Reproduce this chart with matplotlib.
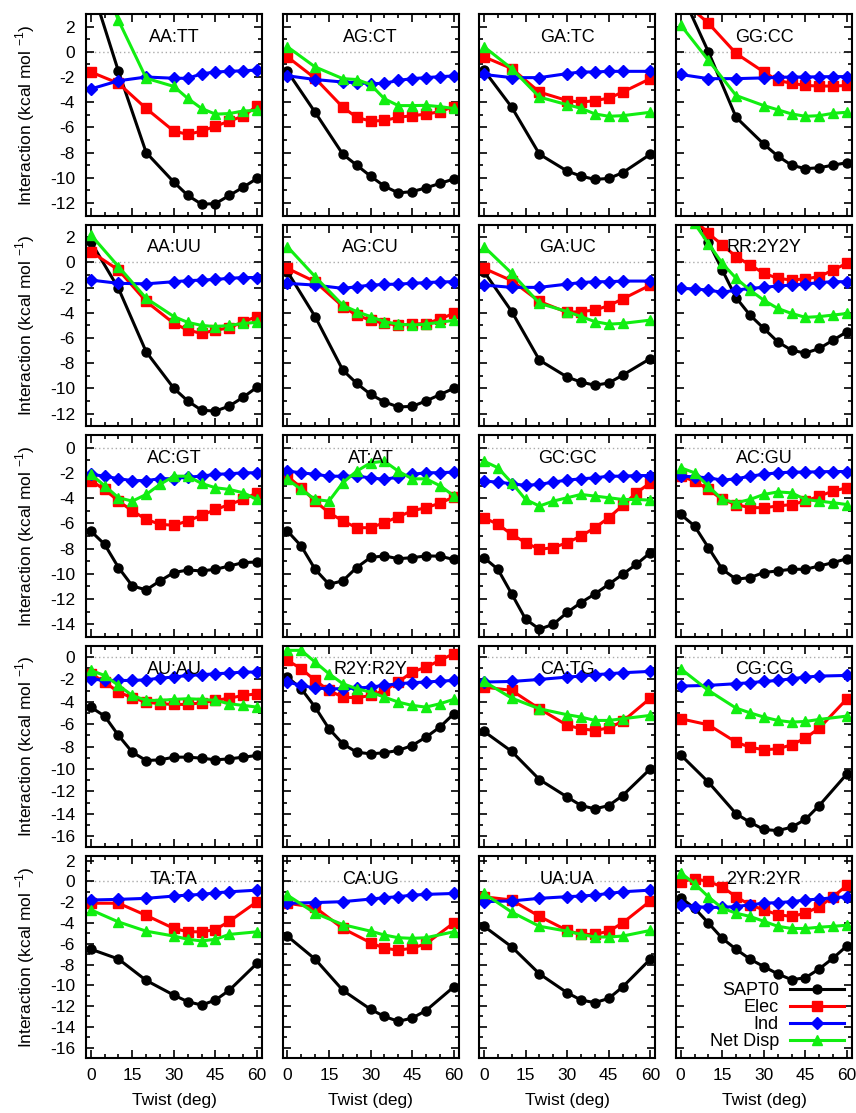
import matplotlib.pyplot as plt
from matplotlib.ticker import MultipleLocator

# twist grids (deg) used by the different scans
tw_a = [0, 10, 20, 30, 35, 40, 45, 50, 55, 60]
tw_b = [0, 10, 20, 25, 30, 35, 40, 45, 50, 55, 60]
tw_c = [0, 10, 20, 30, 35, 40, 45, 50, 60]
tw_d = [0, 10, 20, 25, 30, 35, 40, 45, 50, 60]
tw_5 = [0, 5, 10, 15, 20, 25, 30, 35, 40, 45, 50, 55, 60]

# row 1
aa_tt_sapt0 = [5.4, -1.55, -8.0, -10.35, -11.4, -12.1, -12.05, -11.4, -10.75, -10.05]
aa_tt_elec = [-1.6, -2.5, -4.5, -6.3, -6.55, -6.3, -5.9, -5.5, -5.1, -4.3]
aa_tt_ind = [-2.95, -2.3, -2.0, -2.1, -2.1, -1.75, -1.6, -1.55, -1.5, -1.45]
aa_tt_disp = [8.0, 2.5, -2.1, -2.75, -3.7, -4.5, -4.95, -4.9, -4.7, -4.65]

ag_ct_sapt0 = [-1.55, -4.8, -8.13, -9.0, -9.87, -10.67, -11.2, -11.1, -10.8, -10.45, -10.1]
ag_ct_elec = [-0.4, -2.1, -4.4, -5.2, -5.5, -5.45, -5.2, -5.07, -4.95, -4.75, -4.35]
ag_ct_ind = [-1.9, -2.2, -2.4, -2.45, -2.53, -2.5, -2.27, -2.13, -2.05, -1.97, -1.92]
ag_ct_disp = [0.4, -1.2, -2.13, -2.2, -2.6, -3.73, -4.27, -4.27, -4.25, -4.35, -4.5]

ga_tc_sapt0 = [-1.47, -4.4, -8.13, -9.47, -9.87, -10.13, -10.05, -9.6, -8.13]
ga_tc_elec = [-0.4, -1.33, -3.2, -3.87, -4.0, -3.87, -3.68, -3.2, -2.13]
ga_tc_ind = [-1.8, -2.05, -2.05, -1.73, -1.6, -1.6, -1.55, -1.55, -1.55]
ga_tc_disp = [0.4, -1.33, -3.6, -4.2, -4.48, -4.93, -5.12, -5.07, -4.8]

gg_cc_sapt0 = [4.8, 0.0, -5.2, -7.33, -8.27, -9.0, -9.28, -9.2, -9.0, -8.8]
gg_cc_elec = [4.2, 2.27, -0.13, -1.6, -2.27, -2.5, -2.67, -2.72, -2.72, -2.67]
gg_cc_ind = [-1.8, -2.13, -2.13, -2.07, -2.03, -2.0, -2.0, -1.98, -1.97, -1.97]
gg_cc_disp = [2.13, -0.67, -3.47, -4.27, -4.6, -4.93, -5.12, -5.07, -4.88, -4.8]

# row 2
aa_uu_sapt0 = [1.65, -2.06, -7.1, -10.0, -11.0, -11.74, -11.8, -11.4, -10.7, -9.9]
aa_uu_elec = [0.86, -0.6, -3.1, -4.84, -5.37, -5.64, -5.37, -5.2, -4.7, -4.3]
aa_uu_ind = [-1.4, -1.66, -1.7, -1.53, -1.45, -1.4, -1.35, -1.26, -1.2, -1.2]
aa_uu_disp = [2.2, -0.33, -2.85, -4.3, -4.76, -5.0, -5.1, -5.0, -4.84, -4.76]

ag_cu_sapt0 = [-0.73, -4.3, -8.55, -9.6, -10.47, -11.08, -11.47, -11.43, -11.0, -10.5, -10.0]
ag_cu_elec = [-0.47, -1.53, -3.5, -4.2, -4.58, -4.84, -4.97, -4.9, -4.85, -4.5, -4.05]
ag_cu_ind = [-1.66, -1.8, -2.06, -1.93, -1.8, -1.75, -1.72, -1.66, -1.6, -1.55, -1.53]
ag_cu_disp = [1.25, -1.13, -3.4, -3.9, -4.3, -4.7, -4.9, -4.97, -4.9, -4.75, -4.6]

ga_uc_sapt0 = [-0.73, -3.9, -7.76, -9.1, -9.5, -9.75, -9.57, -8.95, -7.63]
ga_uc_elec = [-0.47, -1.45, -3.1, -3.97, -3.9, -3.78, -3.43, -2.9, -1.8]
ga_uc_ind = [-1.8, -1.98, -1.98, -1.72, -1.6, -1.53, -1.53, -1.48, -1.48]
ga_uc_disp = [1.25, -0.86, -3.25, -3.9, -4.3, -4.7, -4.9, -4.84, -4.58]

rr_2y2y_sapt0 = [6.8, 4.0, 1.65, -0.6, -2.8, -4.18, -5.24, -6.3, -6.97, -7.2, -6.83, -6.17, -5.5]
rr_2y2y_elec = [4.5, 3.4, 2.3, 1.4, 0.46, -0.2, -0.86, -1.26, -1.4, -1.3, -1.13, -0.6, -0.07]
rr_2y2y_ind = [-2.06, -2.1, -2.2, -2.37, -2.2, -2.06, -1.98, -1.87, -1.8, -1.72, -1.6, -1.53, -1.53]
rr_2y2y_disp = [4.5, 3.1, 1.5, -0.07, -1.26, -2.2, -3.0, -3.65, -4.05, -4.36, -4.3, -4.18, -4.05]

# row 3
ac_gt_sapt0 = [-6.6, -7.66, -9.5, -10.96, -11.28, -10.56, -9.9, -9.7, -9.77, -9.64, -9.38, -9.11, -9.06]
ac_gt_elec = [-2.6, -3.3, -4.23, -5.0, -5.68, -6.07, -6.15, -5.8, -5.36, -4.89, -4.5, -4.09, -3.57]
ac_gt_ind = [-2.1, -2.25, -2.45, -2.6, -2.6, -2.45, -2.45, -2.32, -2.25, -2.1, -2.06, -1.98, -1.98]
ac_gt_disp = [-2.1, -3.0, -3.96, -4.23, -3.7, -2.9, -2.25, -2.25, -2.83, -3.17, -3.3, -3.57, -4.1]

at_at_sapt0 = [-6.6, -7.8, -9.64, -10.83, -10.56, -9.5, -8.7, -8.58, -8.8, -8.72, -8.58, -8.6, -8.86]
at_at_elec = [-2.25, -3.17, -4.23, -5.15, -5.8, -6.34, -6.34, -5.94, -5.47, -5.0, -4.75, -4.4, -3.9]
at_at_ind = [-1.85, -1.98, -2.1, -2.25, -2.25, -2.25, -2.38, -2.5, -2.32, -2.1, -1.98, -1.97, -1.93]
at_at_disp = [-2.5, -3.3, -4.1, -4.23, -2.77, -1.85, -1.19, -1.06, -1.85, -2.46, -2.46, -3.0, -3.8]

gc_gc_sapt0 = [-8.72, -9.64, -11.6, -13.6, -14.4, -14.0, -13.07, -12.28, -11.6, -10.83, -10.04, -9.24, -8.32]
gc_gc_elec = [-5.55, -6.07, -6.87, -7.53, -8.06, -7.92, -7.53, -7.0, -6.34, -5.55, -4.57, -3.57, -2.77]
gc_gc_ind = [-2.64, -2.72, -2.85, -2.98, -2.9, -2.72, -2.56, -2.46, -2.38, -2.25, -2.25, -2.2, -2.2]
gc_gc_disp = [-1.06, -1.58, -2.77, -4.1, -4.62, -4.23, -3.96, -3.7, -3.83, -3.96, -4.1, -4.1, -4.15]

ac_gu_sapt0 = [-5.28, -6.2, -7.92, -9.64, -10.43, -10.3, -9.9, -9.77, -9.64, -9.64, -9.38, -9.11, -8.8]
ac_gu_elec = [-2.25, -2.64, -3.3, -4.1, -4.5, -4.75, -4.75, -4.62, -4.5, -4.23, -3.83, -3.43, -3.17]
ac_gu_ind = [-2.25, -2.3, -2.38, -2.56, -2.46, -2.25, -2.1, -1.98, -1.93, -1.92, -1.9, -1.88, -1.88]
ac_gu_disp = [-1.58, -1.98, -3.04, -4.1, -4.36, -4.1, -3.7, -3.5, -3.57, -4.1, -4.23, -4.36, -4.5]

# row 4
au_au_sapt0 = [-4.47, -5.27, -7.0, -8.5, -9.24, -9.18, -8.94, -8.94, -9.03, -9.18, -9.09, -8.94, -8.79]
au_au_elec = [-1.49, -2.23, -3.13, -3.64, -4.02, -4.17, -4.23, -4.23, -4.08, -3.87, -3.67, -3.43, -3.28]
au_au_ind = [-1.94, -2.09, -2.09, -2.09, -2.03, -1.88, -1.79, -1.64, -1.58, -1.49, -1.43, -1.34, -1.34]
au_au_disp = [-1.19, -1.64, -2.53, -3.43, -3.87, -3.87, -3.78, -3.72, -3.78, -3.87, -4.17, -4.32, -4.47]

r2y_r2y_sapt0 = [-1.79, -2.83, -4.47, -6.4, -7.75, -8.5, -8.64, -8.55, -8.34, -7.9, -7.15, -6.26, -5.07]
r2y_r2y_elec = [-0.3, -1.04, -2.09, -2.98, -3.58, -3.64, -3.43, -2.98, -2.23, -1.34, -0.9, -0.3, 0.3]
r2y_r2y_ind = [-2.23, -2.53, -2.77, -2.83, -2.83, -2.77, -2.68, -2.53, -2.38, -2.29, -2.23, -2.15, -2.09]
r2y_r2y_disp = [0.6, 0.6, -0.45, -1.49, -2.38, -2.83, -3.13, -3.58, -4.02, -4.32, -4.47, -4.17, -3.78]

ca_tg_sapt0 = [-6.64, -8.43, -10.94, -12.5, -13.26, -13.56, -13.26, -12.37, -9.98]
ca_tg_elec = [-2.68, -2.98, -4.62, -6.1, -6.4, -6.56, -6.32, -5.75, -3.67]
ca_tg_ind = [-2.23, -2.18, -2.0, -1.79, -1.7, -1.58, -1.49, -1.4, -1.28]
ca_tg_disp = [-2.18, -3.67, -4.62, -5.15, -5.36, -5.66, -5.66, -5.51, -5.21]

cg_cg_sapt0 = [-8.73, -11.17, -14.0, -14.75, -15.4, -15.5, -15.2, -14.5, -13.26, -10.43]
cg_cg_elec = [-5.51, -6.05, -7.6, -8.05, -8.28, -8.2, -7.84, -7.24, -6.35, -3.72]
cg_cg_ind = [-2.59, -2.53, -2.38, -2.29, -2.18, -2.09, -1.94, -1.79, -1.7, -1.64]
cg_cg_disp = [-1.04, -2.98, -4.56, -4.98, -5.36, -5.66, -5.81, -5.75, -5.57, -5.27]

# row 5
ta_ta_sapt0 = [-6.52, -7.47, -9.53, -10.95, -11.58, -11.9, -11.42, -10.47, -7.88]
ta_ta_elec = [-2.1, -2.1, -3.27, -4.53, -4.85, -4.85, -4.63, -3.84, -1.95]
ta_ta_ind = [-1.79, -1.73, -1.63, -1.41, -1.32, -1.25, -1.1, -1.0, -0.84]
ta_ta_disp = [-2.73, -3.9, -4.79, -5.26, -5.57, -5.73, -5.57, -5.1, -4.85]

ca_ug_sapt0 = [-5.27, -7.48, -10.48, -12.31, -13.0, -13.47, -13.16, -12.43, -10.16]
ca_ug_elec = [-2.1, -2.5, -4.53, -5.9, -6.43, -6.62, -6.43, -6.0, -4.0]
ca_ug_ind = [-2.1, -2.04, -1.95, -1.7, -1.57, -1.47, -1.32, -1.25, -1.16]
ca_ug_disp = [-1.32, -3.06, -4.16, -4.79, -5.16, -5.42, -5.48, -5.42, -4.85]

ua_ua_sapt0 = [-4.32, -6.3, -8.9, -10.72, -11.42, -11.67, -11.26, -10.16, -7.48]
ua_ua_elec = [-1.48, -1.79, -3.37, -4.72, -5.1, -5.1, -4.79, -4.0, -1.88]
ua_ua_ind = [-1.95, -1.88, -1.63, -1.47, -1.41, -1.32, -1.16, -1.0, -0.84]
ua_ua_disp = [-1.16, -2.96, -4.32, -4.79, -5.1, -5.35, -5.35, -5.26, -4.72]

yr_yr_sapt0 = [-1.57, -2.58, -4.0, -5.48, -6.53, -7.48, -8.2, -8.9, -9.46, -9.28, -8.42, -7.38, -6.2]
yr_yr_elec = [-0.05, 0.26, 0.0, -0.53, -1.48, -2.26, -2.74, -3.2, -3.37, -3.06, -2.42, -1.48, -0.37]
yr_yr_ind = [-2.26, -2.42, -2.5, -2.5, -2.42, -2.26, -2.1, -2.04, -1.95, -1.79, -1.7, -1.57, -1.48]
yr_yr_disp = [0.83, -0.21, -1.48, -2.58, -3.06, -3.37, -3.84, -4.32, -4.53, -4.53, -4.41, -4.32, -4.22]

panels = [
    [("AA:TT", tw_a, aa_tt_sapt0, aa_tt_elec, aa_tt_ind, aa_tt_disp),
     ("AG:CT", tw_b, ag_ct_sapt0, ag_ct_elec, ag_ct_ind, ag_ct_disp),
     ("GA:TC", tw_c, ga_tc_sapt0, ga_tc_elec, ga_tc_ind, ga_tc_disp),
     ("GG:CC", tw_a, gg_cc_sapt0, gg_cc_elec, gg_cc_ind, gg_cc_disp)],
    [("AA:UU", tw_a, aa_uu_sapt0, aa_uu_elec, aa_uu_ind, aa_uu_disp),
     ("AG:CU", tw_b, ag_cu_sapt0, ag_cu_elec, ag_cu_ind, ag_cu_disp),
     ("GA:UC", tw_c, ga_uc_sapt0, ga_uc_elec, ga_uc_ind, ga_uc_disp),
     ("RR:2Y2Y", tw_5, rr_2y2y_sapt0, rr_2y2y_elec, rr_2y2y_ind, rr_2y2y_disp)],
    [("AC:GT", tw_5, ac_gt_sapt0, ac_gt_elec, ac_gt_ind, ac_gt_disp),
     ("AT:AT", tw_5, at_at_sapt0, at_at_elec, at_at_ind, at_at_disp),
     ("GC:GC", tw_5, gc_gc_sapt0, gc_gc_elec, gc_gc_ind, gc_gc_disp),
     ("AC:GU", tw_5, ac_gu_sapt0, ac_gu_elec, ac_gu_ind, ac_gu_disp)],
    [("AU:AU", tw_5, au_au_sapt0, au_au_elec, au_au_ind, au_au_disp),
     ("R2Y:R2Y", tw_5, r2y_r2y_sapt0, r2y_r2y_elec, r2y_r2y_ind, r2y_r2y_disp),
     ("CA:TG", tw_c, ca_tg_sapt0, ca_tg_elec, ca_tg_ind, ca_tg_disp),
     ("CG:CG", tw_d, cg_cg_sapt0, cg_cg_elec, cg_cg_ind, cg_cg_disp)],
    [("TA:TA", tw_c, ta_ta_sapt0, ta_ta_elec, ta_ta_ind, ta_ta_disp),
     ("CA:UG", tw_c, ca_ug_sapt0, ca_ug_elec, ca_ug_ind, ca_ug_disp),
     ("UA:UA", tw_c, ua_ua_sapt0, ua_ua_elec, ua_ua_ind, ua_ua_disp),
     ("2YR:2YR", tw_5, yr_yr_sapt0, yr_yr_elec, yr_yr_ind, yr_yr_disp)],
]

row_ylims = [(-13, 3), (-13, 3), (-15, 1), (-17, 1), (-17, 2.4)]

labels = ["SAPT0", "Elec", "Ind", "Net Disp"]
colors = ["black", "#ff0000", "#0000ff", "#11ee11"]
markers = ["o", "s", "D", "^"]
msizes = [6.5, 6.5, 6, 7]

plt.rcParams['font.family'] = ['Liberation Sans', 'DejaVu Sans']
plt.rcParams['axes.unicode_minus'] = False

fig, axes = plt.subplots(5, 4, figsize=(8.56, 11.13), dpi=100, sharex=True)
fig.subplots_adjust(left=0.1005, right=0.9953, top=0.9874, bottom=0.0494,
                    wspace=0.117, hspace=0.045)

for r in range(5):
    for c in range(4):
        ax = axes[r][c]
        name, tw = panels[r][c][0], panels[r][c][1]
        ax.axhline(0, color='#aaaaaa', lw=1, ls=(0, (1, 2)), zorder=0)
        for k in range(4):
            ax.plot(tw, panels[r][c][2 + k], color=colors[k], marker=markers[k],
                    ms=msizes[k], lw=2.2, label=labels[k])
        ax.set_xlim(-1.7, 61.8)
        ax.set_ylim(row_ylims[r])
        ax.xaxis.set_major_locator(MultipleLocator(15))
        ax.xaxis.set_minor_locator(MultipleLocator(5))
        ax.yaxis.set_major_locator(MultipleLocator(2))
        ax.yaxis.set_minor_locator(MultipleLocator(1))
        ax.tick_params(which='both', direction='in', top=True, right=True,
                       labelsize=12.5, width=1.2)
        ax.tick_params(which='major', length=6)
        ax.tick_params(which='minor', length=3)
        ax.tick_params(axis='y', pad=8)
        ax.tick_params(axis='x', pad=7)
        for s in ax.spines.values():
            s.set_linewidth(1.5)
        ax.text(0.5, 0.885, name, transform=ax.transAxes, ha='center',
                va='center', fontsize=13)
        if c == 0:
            ax.set_ylabel(r'Interaction (kcal mol $^{\mathregular{-1}}$)', fontsize=12.5)
            ax.yaxis.set_label_coords(-0.28, 0.5)
        else:
            ax.tick_params(labelleft=False)
        if r == 4:
            ax.set_xlabel('Twist (deg)', fontsize=12.5)
            ax.xaxis.set_label_coords(0.5, -0.175)

axes[4][3].legend(loc='lower right', frameon=False, markerfirst=False,
                  handlelength=3.0, handletextpad=0.6, labelspacing=0.0,
                  fontsize=13, borderaxespad=0.05, numpoints=1)

plt.savefig("out.png", dpi=100)
